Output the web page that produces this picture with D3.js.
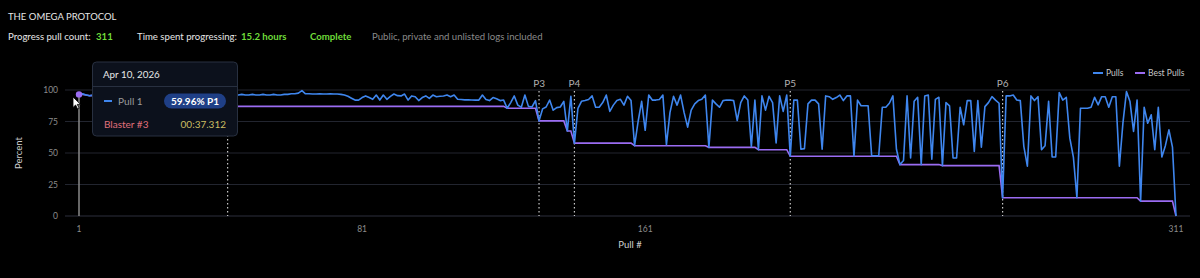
<!DOCTYPE html>
<html><head><meta charset="utf-8">
<script src="https://cdn.jsdelivr.net/npm/d3@7/dist/d3.min.js"></script>
<style>
html,body{margin:0;padding:0;background:#000;}
svg{display:block;}
</style></head>
<body>
<svg id="chart" width="1200" height="278"></svg>
<script>
const pulls = [
96.5, 97, 96, 95.5, 96, 96.5, 95, 96, 97, 96,
95.5, 96, 94, 96, 97, 96, 95, 96, 93, 87,
95, 96, 96.5, 95, 96, 97, 96, 95.5, 96, 96,
95, 96.5, 96, 95, 96, 97, 96, 95.5, 96, 96,
95, 96, 96, 96.5, 96, 96, 96.5, 96, 96, 96.5,
96, 96, 96.5, 96, 96, 96.5, 96, 96, 96.5, 96.5,
97, 97, 97.5, 99.5, 97, 97, 96.8, 96.8, 97, 96.8,
96.8, 97, 96.8, 96.8, 96.5, 96, 95, 93.5, 92, 92,
94, 95.3, 94, 92.6, 96, 92, 96, 92.6, 95, 96.8,
95.5, 95.3, 96.8, 92, 95.3, 94.7, 91.6, 94, 95.3, 93.4,
96, 94.7, 95, 95.3, 96, 94.7, 96, 92.6, 92.4, 92.2,
92.2, 92.1, 92, 92, 96, 92.5, 91.6, 94, 93, 91.6,
92, 85.5, 90, 95.3, 88, 86.3, 96, 87, 86.5, 91.6,
75.5, 85, 86.5, 92, 84, 86, 86.5, 91, 67.5, 95,
57.8, 85.5, 91, 91.6, 92.5, 95.3, 86.3, 86.3, 90, 96,
83, 88, 91.6, 92.6, 88, 95, 91.6, 55.8, 75, 91,
68, 96, 92, 92, 92.5, 96, 56.5, 82, 95, 88,
96, 82, 70.5, 84, 89, 91.6, 92.6, 96, 54.5, 92,
89, 86.3, 91.6, 92, 92, 91.6, 75.8, 90, 95.3, 92,
55, 92, 52.6, 95.3, 84, 95, 90, 58, 95.3, 83,
96, 47.4, 92, 92, 53, 53.5, 89, 92, 92, 89,
53, 95.3, 94.7, 92.6, 94, 96, 91.6, 95.3, 95.3, 47.5,
92, 87.5, 87.5, 87.5, 47.8, 47.8, 47.8, 86.3, 86.3, 89.5,
95.3, 53, 40.8, 44, 95.3, 46, 91, 94.2, 40.8, 95.3,
96, 45, 92.6, 94.2, 40, 90, 87.4, 46, 46, 86.3,
72.4, 91.6, 91.6, 51.3, 91.6, 54.7, 86.8, 90, 94.7, 92,
89.5, 14.5, 95.3, 95.3, 96, 92, 91.6, 55.3, 39.5, 95.3,
91.6, 94.7, 52.6, 55.8, 91, 46.8, 46.8, 97.9, 92, 94.2,
61.8, 46.8, 14.5, 85.5, 85.5, 85.5, 86.3, 94.2, 88.2, 94.7,
94.7, 86.3, 94.7, 94.7, 39.5, 73.7, 98.7, 90.8, 67.1, 92.1,
11.8, 86.3, 73.6, 80.3, 52.6, 86.3, 46.8, 55.8, 68.4, 54.7, 0
];
const phasePulls = [43, 131, 141, 202, 262];
const phaseLabels = ["P2", "P3", "P4", "P5", "P6"];
const yTicks = [0, 25, 50, 75, 100];
const xTicks = [1, 81, 161, 311];

const svg = d3.select("#chart");
const FONT = "Lato, 'Noto Sans', sans-serif";

// best pulls: running minimum of the pulls
const pullNums = pulls.map((d, i) => i + 1);
const best = [];
pulls.forEach((v, i) => best.push(i === 0 ? v : Math.min(best[i - 1], v)));

const x = d3.scaleLinear().domain([1, 311]).range([79, 1176]);
const y = d3.scaleLinear().domain([0, 100]).range([216, 90]);

// Header
svg.append("text").attr("x", 8).attr("y", 20).attr("fill", "#e6e6e6")
  .attr("font-family", FONT).attr("font-size", 9.5).text("THE OMEGA PROTOCOL");
const hdr = svg.append("text").attr("y", 40).attr("font-family", FONT).attr("font-size", 9.6);
const parts = [
  {t: "Progress pull count:", x: 8, c: "#e6e6e6", w: 400},
  {t: "311", x: 96, c: "#6fdc3a", w: 700},
  {t: "Time spent progressing:", x: 137, c: "#e6e6e6", w: 400},
  {t: "15.2 hours", x: 241, c: "#6fdc3a", w: 700},
  {t: "Complete", x: 310, c: "#6fdc3a", w: 700},
  {t: "Public, private and unlisted logs included", x: 372, c: "#8a8a8a", w: 400}
];
parts.forEach(p => hdr.append("tspan").attr("x", p.x).attr("fill", p.c).attr("font-weight", p.w).text(p.t));

// Grid
const g = svg.append("g");
g.selectAll("line.grid").data(yTicks).join("line")
  .attr("x1", 65).attr("x2", 1190)
  .attr("y1", d => y(d)).attr("y2", d => y(d))
  .attr("stroke", d => d === 0 ? "#2c2f3d" : "#22252f").attr("stroke-width", 1);

// Y axis labels
g.selectAll("text.yt").data(yTicks).join("text")
  .attr("x", 58).attr("y", d => y(d) + 3).attr("text-anchor", "end")
  .attr("fill", "#8c8c8c").attr("font-family", FONT).attr("font-size", 8.5).text(d => d);
svg.append("text").attr("transform", "translate(22,153) rotate(-90)")
  .attr("text-anchor", "middle").attr("fill", "#d0d0d0").attr("font-family", FONT)
  .attr("font-size", 9.5).text("Percent");

// X axis labels
g.selectAll("text.xt").data(xTicks).join("text")
  .attr("x", d => x(d)).attr("y", 232).attr("text-anchor", "middle")
  .attr("fill", "#8c8c8c").attr("font-family", FONT).attr("font-size", 8.5).text(d => d);
svg.append("text").attr("x", 630).attr("y", 248).attr("text-anchor", "middle")
  .attr("fill", "#d0d0d0").attr("font-family", FONT).attr("font-size", 9.5).text("Pull #");

// Phase lines
g.selectAll("line.phase").data(phasePulls).join("line")
  .attr("x1", d => x(d)).attr("x2", d => x(d)).attr("y1", 91).attr("y2", 216)
  .attr("stroke", "#c8c8c8").attr("stroke-width", 1.2).attr("stroke-dasharray", "1.5,2.5");
g.selectAll("text.phase").data(phasePulls).join("text")
  .attr("x", d => x(d)).attr("y", 87).attr("text-anchor", "middle")
  .attr("fill", "#b0b0b0").attr("font-family", FONT).attr("font-size", 10)
  .text((d, i) => phaseLabels[i]);

// Lines
const line = d3.line().x((d, i) => x(pullNums[i])).y(d => y(d));
g.append("path").datum(best).attr("d", line).attr("fill", "none")
  .attr("stroke", "#9b6cf2").attr("stroke-width", 1.6);
g.append("path").datum(pulls).attr("d", line).attr("fill", "none")
  .attr("stroke", "#3f86ee").attr("stroke-width", 1.6).attr("stroke-linejoin", "round");

// Crosshair
g.append("line").attr("x1", x(1)).attr("x2", x(1)).attr("y1", y(pulls[0])).attr("y2", 216)
  .attr("stroke", "#8a8a8a").attr("stroke-width", 1.5);
g.append("circle").attr("cx", x(1)).attr("cy", y(pulls[0])).attr("r", 3.2).attr("fill", "#9b6cf2");

// Legend
const leg = svg.append("g").attr("font-family", FONT).attr("font-size", 8.5);
[{t: "Pulls", x: 1093, c: "#3f86ee"}, {t: "Best Pulls", x: 1135, c: "#9b6cf2"}].forEach(l => {
  leg.append("line").attr("x1", l.x).attr("x2", l.x + 10).attr("y1", 73).attr("y2", 73)
    .attr("stroke", l.c).attr("stroke-width", 2);
  leg.append("text").attr("x", l.x + 13).attr("y", 76).attr("fill", "#c8c8c8").text(l.t);
});

// Tooltip
const tt = svg.append("g").attr("font-family", FONT);
tt.append("rect").attr("x", 92.5).attr("y", 62).attr("width", 145).attr("height", 74).attr("rx", 4)
  .attr("fill", "#0c111c").attr("stroke", "#283040").attr("stroke-width", 1);
tt.append("line").attr("x1", 93).attr("x2", 237).attr("y1", 86.5).attr("y2", 86.5).attr("stroke", "#283040");
tt.append("text").attr("x", 103).attr("y", 78).attr("fill", "#e8e8e8").attr("font-size", 9.8).text("Apr 10, 2026");
tt.append("line").attr("x1", 104).attr("x2", 112).attr("y1", 101).attr("y2", 101).attr("stroke", "#3f86ee").attr("stroke-width", 2);
tt.append("text").attr("x", 118).attr("y", 104.5).attr("fill", "#9a9a9a").attr("font-size", 10).text("Pull 1");
tt.append("rect").attr("x", 164).attr("y", 93.5).attr("width", 62).attr("height", 15).attr("rx", 7.5).attr("fill", "#1f3f86");
tt.append("text").attr("x", 195).attr("y", 104.5).attr("text-anchor", "middle").attr("fill", "#ffffff")
  .attr("font-size", 10).attr("font-weight", 700).text("59.96% P1");
tt.append("text").attr("x", 104).attr("y", 128).attr("fill", "#e0707a").attr("font-size", 10).text("Blaster #3");
tt.append("text").attr("x", 226).attr("y", 128).attr("text-anchor", "end").attr("fill", "#cbbd62").attr("font-size", 10).text("00:37.312");

// Cursor
svg.append("path").attr("transform", "translate(73,97)")
  .attr("d", "M0,0 L0,10.5 L2.6,8 L4.6,12 L6.2,11.3 L4.3,7.4 L7.6,7.4 Z")
  .attr("fill", "#ffffff").attr("stroke", "#000").attr("stroke-width", 0.8);
</script>
</body></html>
